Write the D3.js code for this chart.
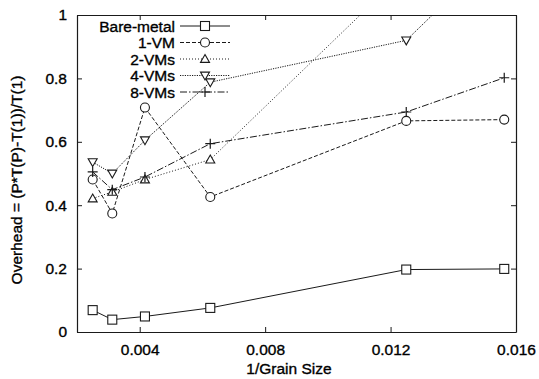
<!DOCTYPE html>
<html>
<head>
<meta charset="utf-8">
<script src="https://cdn.jsdelivr.net/npm/d3@7"></script>
<style>
  body { margin: 0; background: #fff; }
  svg { display: block; font-family: "Liberation Sans", Arial, sans-serif; }
  text { stroke: #000; stroke-width: 0.35px; }
</style>
</head>
<body>
<svg></svg>
<script>
var width = 539, height = 379;

// data
var grain = [0.0025, 0.003125, 0.004167, 0.00625, 0.0125, 0.015625];
var bareMetal = [0.069, 0.039, 0.049, 0.076, 0.197, 0.199];
var oneVM = [0.481, 0.374, 0.708, 0.426, 0.666, 0.670];
var twoVMs = [0.421, 0.442, 0.481, 0.544, 1.14, 1.30];
var fourVMs = [0.536, 0.500, 0.605, 0.788, 0.920, 1.22];
var eightVMs = [0.505, 0.449, 0.489, 0.594, 0.694, 0.802];

var seriesNames = ["Bare-metal", "1-VM", "2-VMs", "4-VMs", "8-VMs"];
var xTicks = [0.004, 0.008, 0.012, 0.016];
var yTicks = [0, 0.2, 0.4, 0.6, 0.8, 1];

var series = [
  {name: seriesNames[0], values: bareMetal, dash: null, marker: "square"},
  {name: seriesNames[1], values: oneVM, dash: "4,2", marker: "circle"},
  {name: seriesNames[2], values: twoVMs, dash: "1,2", marker: "triangle"},
  {name: seriesNames[3], values: fourVMs, dash: "1.2,1.2", marker: "down"},
  {name: seriesNames[4], values: eightVMs, dash: "7,2,1.5,2", marker: "plus"}
];

var margin = {left: 77, right: 23, top: 15, bottom: 47};

var svg = d3.select("svg")
  .attr("width", width)
  .attr("height", height);

var x = d3.scaleLinear().domain([0.002, 0.016]).range([margin.left, width - margin.right]);
var y = d3.scaleLinear().domain([0, 1]).range([height - margin.bottom, margin.top]);

var ink = "#1a1a1a";
var fontSize = "15.5px";

svg.append("defs").append("clipPath").attr("id", "plotclip")
  .append("rect")
  .attr("x", x.range()[0]).attr("y", y.range()[1])
  .attr("width", x.range()[1] - x.range()[0])
  .attr("height", y.range()[0] - y.range()[1]);

// axes, ticks inward and mirrored
var tickLen = 5;
svg.append("g")
  .attr("transform", "translate(0," + y(0) + ")")
  .call(d3.axisBottom(x).tickValues(xTicks).tickFormat(d3.format(".3f")).tickSizeInner(-tickLen).tickSizeOuter(0).tickPadding(12))
  .call(styleAxis);
svg.append("g")
  .attr("transform", "translate(0," + y(1) + ")")
  .call(d3.axisTop(x).tickValues(xTicks).tickFormat("").tickSizeInner(-tickLen).tickSizeOuter(0))
  .call(styleAxis);
svg.append("g")
  .attr("transform", "translate(" + x(0.002) + ",0)")
  .call(d3.axisLeft(y).tickValues(yTicks).tickFormat(function(d){ return d === 0 || d === 1 ? d : d3.format(".1f")(d); }).tickSizeInner(-tickLen).tickSizeOuter(0).tickPadding(10))
  .call(styleAxis);
svg.append("g")
  .attr("transform", "translate(" + x(0.016) + ",0)")
  .call(d3.axisRight(y).tickValues(yTicks).tickFormat("").tickSizeInner(-tickLen).tickSizeOuter(0))
  .call(styleAxis);

function styleAxis(g) {
  g.select(".domain").attr("stroke", ink).attr("stroke-width", 1.2);
  g.selectAll(".tick line").attr("stroke", ink);
  g.selectAll(".tick text").attr("fill", "#000").style("font-size", fontSize)
    .style("font-family", "'Liberation Sans', Arial, sans-serif");
}

// axis titles
svg.append("text")
  .attr("x", 289).attr("y", 374)
  .attr("text-anchor", "middle")
  .style("font-size", fontSize)
  .text("1/Grain Size");

svg.append("text")
  .attr("transform", "translate(22," + 180 + ") rotate(-90)")
  .attr("text-anchor", "middle")
  .style("font-size", fontSize)
  .text("Overhead = (P*T(P)-T(1))/T(1)");

// markers
function drawMarker(g, type, cx, cy) {
  var s = 4.5;
  if (type === "square") {
    g.append("rect").attr("x", cx - s).attr("y", cy - s).attr("width", 2 * s).attr("height", 2 * s)
      .attr("fill", "#fff").attr("stroke", ink).attr("stroke-width", 1.1);
  } else if (type === "circle") {
    g.append("circle").attr("cx", cx).attr("cy", cy).attr("r", s)
      .attr("fill", "#fff").attr("stroke", ink).attr("stroke-width", 1.1);
  } else if (type === "triangle") {
    g.append("path").attr("d", "M" + cx + "," + (cy - s) + "L" + (cx + s) + "," + (cy + s * 0.75) + "L" + (cx - s) + "," + (cy + s * 0.75) + "Z")
      .attr("fill", "#fff").attr("stroke", ink).attr("stroke-width", 1.1);
  } else if (type === "down") {
    g.append("path").attr("d", "M" + cx + "," + (cy + s) + "L" + (cx + s) + "," + (cy - s * 0.75) + "L" + (cx - s) + "," + (cy - s * 0.75) + "Z")
      .attr("fill", "#fff").attr("stroke", ink).attr("stroke-width", 1.1);
  } else if (type === "plus") {
    g.append("path").attr("d", "M" + (cx - s - 0.5) + "," + cy + "H" + (cx + s + 0.5) + "M" + cx + "," + (cy - s - 0.5) + "V" + (cy + s + 0.5))
      .attr("fill", "none").attr("stroke", ink).attr("stroke-width", 1.2);
  }
}

var line = d3.line()
  .x(function(d, i){ return x(grain[i]); })
  .y(function(d){ return y(d); });

var plot = svg.append("g").attr("clip-path", "url(#plotclip)");

series.forEach(function(s) {
  plot.append("path")
    .attr("d", line(s.values))
    .attr("fill", "none")
    .attr("stroke", ink)
    .attr("stroke-width", 1)
    .attr("stroke-dasharray", s.dash);
});

// legend
var legendY = [26, 42.5, 59, 75.5, 92];
series.forEach(function(s, i) {
  var ly = legendY[i];
  svg.append("text")
    .attr("x", 175).attr("y", ly + 5.5)
    .attr("text-anchor", "end")
    .style("font-size", fontSize)
    .text(s.name);
  svg.append("line")
    .attr("x1", 180).attr("x2", 230).attr("y1", ly).attr("y2", ly)
    .attr("stroke", ink).attr("stroke-width", 1)
    .attr("stroke-dasharray", s.dash);
  drawMarker(svg, s.marker, 205, ly);
});

series.forEach(function(s) {
  s.values.forEach(function(v, i) {
    if (v <= 1) drawMarker(plot, s.marker, x(grain[i]), y(v));
  });
});
</script>
</body>
</html>
